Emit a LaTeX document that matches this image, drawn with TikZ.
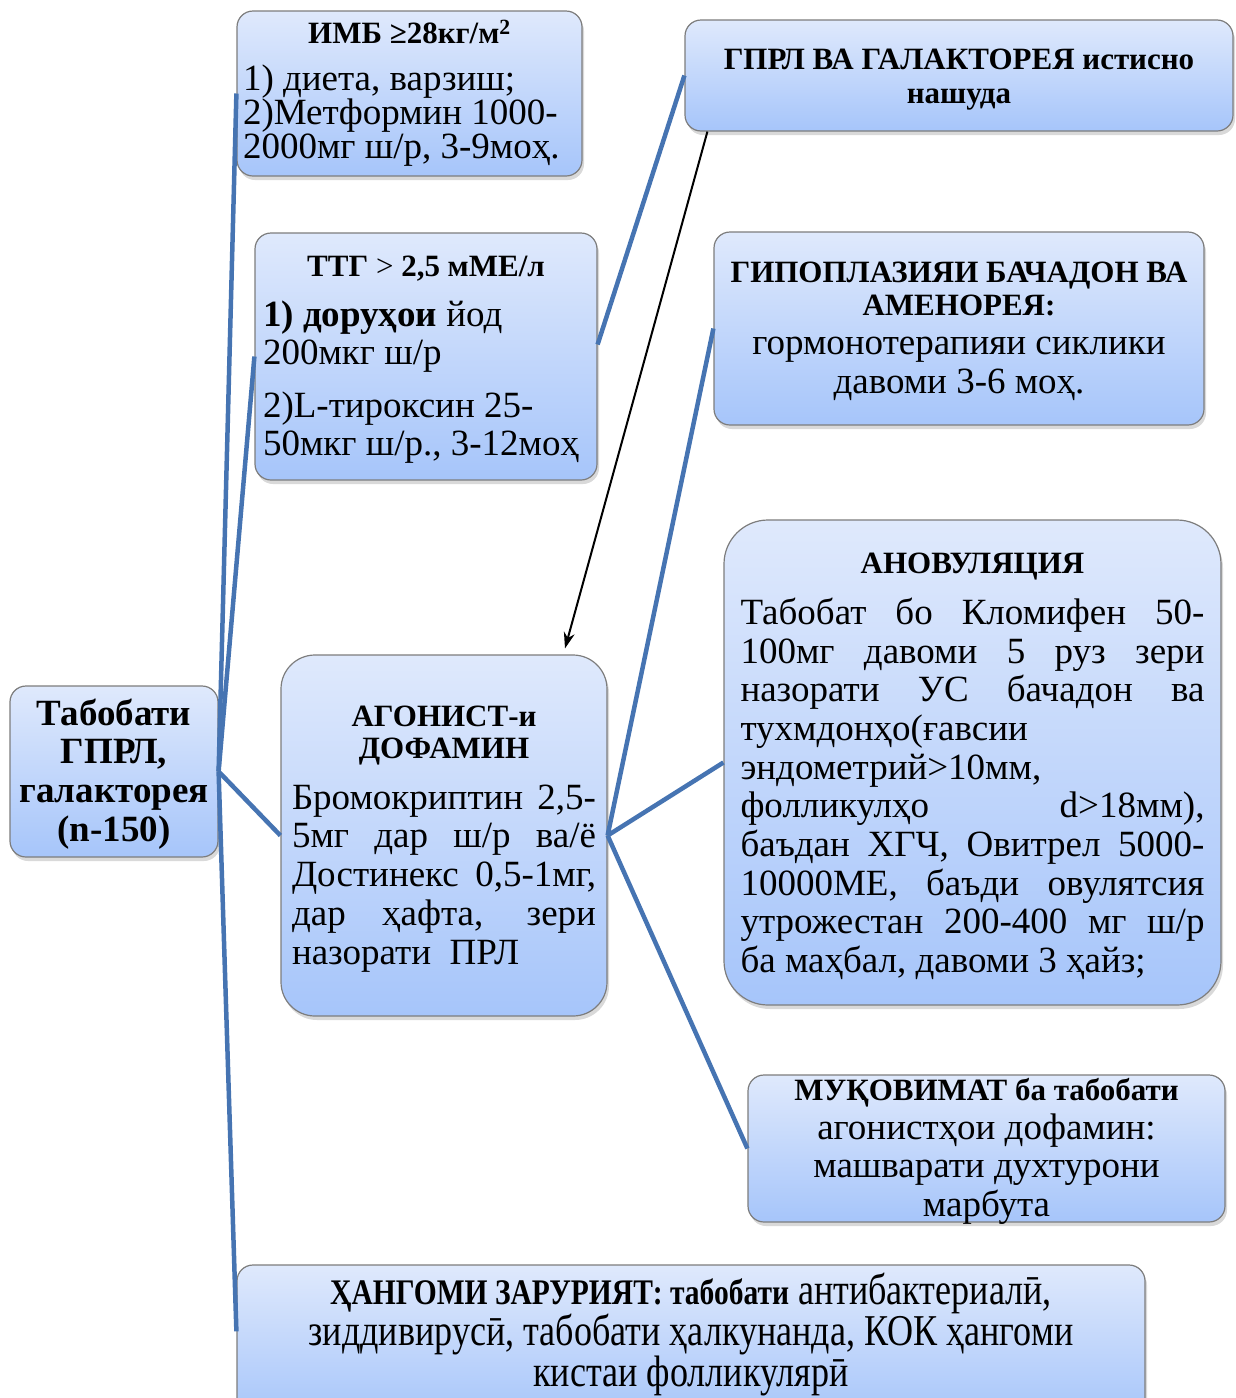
\documentclass[tikz,border=0pt]{standalone}
\usepackage{fontspec}
\setmainfont{Liberation Serif}
\newfontfamily\narrowfont{Liberation Serif}[FakeStretch=0.82]
\usetikzlibrary{arrows.meta,calc,shadows}

\definecolor{boxtop}{RGB}{223,233,252}
\definecolor{boxbot}{RGB}{166,197,250}
\definecolor{boxline}{RGB}{125,125,125}
\definecolor{linkblue}{RGB}{70,116,178}

\newcommand{\headf}{\fontsize{31}{34}\selectfont\bfseries}
\newcommand{\bodyf}{\fontsize{37}{38.7}\selectfont}

\begin{document}
\begin{tikzpicture}[x=1pt, y=-1pt, >=Stealth,
  box/.style={draw=boxline, line width=1.2pt, rounded corners=16pt,
    top color=boxtop, bottom color=boxbot, inner sep=0pt,
    drop shadow={shadow xshift=2pt, shadow yshift=-4pt, opacity=0.3}},
  link/.style={draw=linkblue, line width=4.5pt}]
  \useasboundingbox (0,0) rectangle (1235,1398);

  % root
  \node[box, minimum width=208pt, minimum height=171pt, text width=200pt,
    align=flush center, font=\fontsize{37}{38.7}\selectfont\bfseries] (root) at (114,771.5)
    {Табобати\\ГПРЛ,\\галакторея\\(n-150)\par\kern-5pt};

  % left column
  \node[box, minimum width=345pt, minimum height=165pt, text width=333pt,
    align=flush left, font=\fontsize{37}{34}\selectfont] (imb) at (409.5,93.5)
    {{\centering\headf ИМБ ≥28кг/м\textsuperscript{2}\par}\vspace{13pt}
     1) диета, варзиш;\\2)Метформин 1000-\\2000мг ш/р, 3-9моҳ.};
  \node[box, minimum width=342pt, minimum height=247pt, text width=326pt,
    align=flush left, font=\fontsize{37}{37.5}\selectfont] (ttg) at (426,356.5)
    {{\centering\headf ТТГ {\mdseries >} 2,5 мМЕ/л\par}\vspace{13pt}
     \textbf{1) доруҳои} йод\\200мкг ш/р\par\vspace{16pt}
     2)L-тироксин 25-\\50мкг ш/р., 3-12моҳ\par\kern-6pt};
  \node[box, rounded corners=34pt, minimum width=326pt, minimum height=361pt,
    text width=304pt, align=justify, font=\bodyf] (agon) at (444,835.5)
    {{\centering\fontsize{31}{32}\selectfont\bfseries АГОНИСТ-и\\ДОФАМИН\par}\vspace{12pt}
     Бромокриптин 2,5-\linebreak 5мг дар ш/р ва/ё\linebreak
     Достинекс 0,5-1мг,\linebreak дар ҳафта, зери\linebreak назорати\ \ ПРЛ\par\kern-7pt};

  % right column
  \node[box, minimum width=548pt, minimum height=111pt, text width=530pt,
    align=flush center, font=\headf] (gprl) at (959,75.5)
    {ГПРЛ ВА ГАЛАКТОРЕЯ истисно\\нашуда\par\kern-8pt};
  \node[box, minimum width=490pt, minimum height=193pt, text width=480pt,
    align=flush center, font=\bodyf] (gipo) at (959,328.5)
    {{\fontsize{31}{33}\selectfont\bfseries ГИПОПЛАЗИЯИ БАЧАДОН ВА\\АМЕНОРЕЯ:\par}
     гормонотерапияи сиклики\\давоми 3-6 моҳ.\par\kern-6pt};
  \node[box, rounded corners=44pt, minimum width=497pt, minimum height=485pt,
    text width=464pt, align=justify, font=\bodyf] (anov) at (972.5,762.5)
    {{\centering\headf АНОВУЛЯЦИЯ\par}\vspace{12pt}
     Табобат бо Кломифен 50-\linebreak 100мг давоми 5 руз зери\linebreak
     назорати УС бачадон ва\linebreak тухмдонҳо(ғавсии\\эндометрий>10мм,\\
     фолликулҳо d>18мм),\linebreak баъдан ХГЧ, Овитрел 5000-\linebreak
     10000МЕ, баъди овулятсия\linebreak утрожестан 200-400 мг ш/р\linebreak
     ба маҳбал, давоми 3 ҳайз;\par\kern-8pt};
  \node[box, minimum width=477pt, minimum height=147pt, text width=470pt,
    align=flush center, font=\fontsize{37}{38.5}\selectfont] (mukov) at (986.5,1148.5)
    {{\headf МУҚОВИМАТ ба табобати\par}
     агонистҳои дофамин:\\машварати духтурони\\марбута\par\kern-6pt};

  % bottom
  \node[box, minimum width=908pt, minimum height=155pt, text width=890pt,
    align=flush center, font=\narrowfont\fontsize{44}{40}\selectfont] (bot) at (691,1342.5)
    {{\fontsize{36}{40}\selectfont\bfseries ҲАНГОМИ ЗАРУРИЯТ: табобати} антибактериалӣ,\\
     зиддивирусӣ, табобати ҳалкунанда, КОК ҳангоми\\кистаи фолликулярӣ\par\kern16pt};

  % links
  \draw[link] (root.east) -- (imb.west);
  \draw[link] (root.east) -- (ttg.west);
  \draw[link] (root.east) -- (agon.west);
  \draw[link] (root.east) -- ($(bot.north west)+(0,67)$);
  \draw[link] ($(ttg.east)+(0,-12)$) -- (gprl.west);
  \draw[link] (agon.east) -- (gipo.west);
  \draw[link] (agon.east) -- (anov.west);
  \draw[link] (agon.east) -- (mukov.west);
  \draw[-{Stealth[length=16pt, width=11pt]}, line width=2pt]
    ($(gprl.south west)+(23,0)$) -- ($(agon.north)+(121,-6)$);
\end{tikzpicture}
\end{document}
